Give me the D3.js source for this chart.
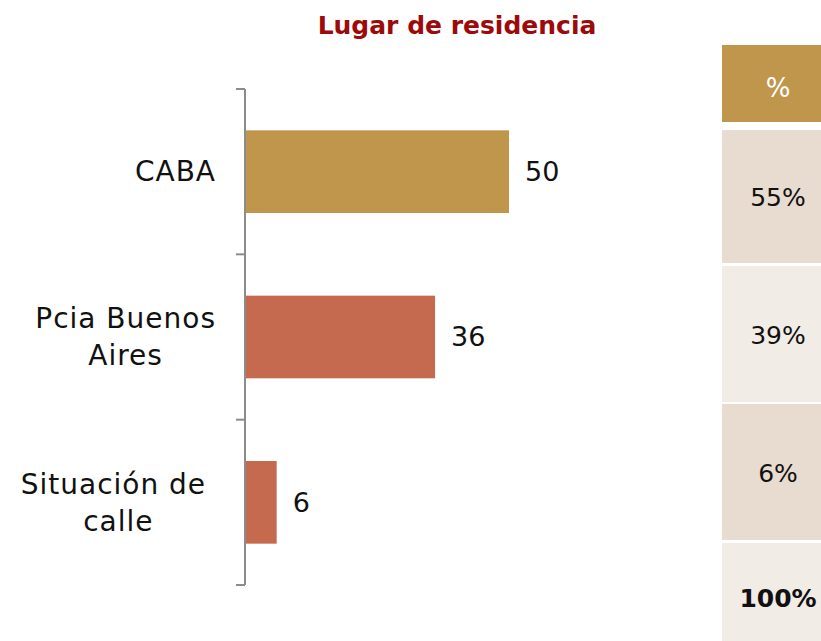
<!DOCTYPE html>
<meta charset="utf-8">
<script src="https://d3js.org/d3.v7.min.js"></script>
<style>
  body { margin: 0; background: #fff; }
  svg text { font-family: "DejaVu Sans", sans-serif; }
</style>
<div id="my_dataviz"></div>
<script>
    // data
    var categories = ["CABA", "Pcia Buenos Aires", "Situación de calle"];
    var labelLines = [["CABA"], ["Pcia Buenos", "Aires"], ["Situación de ", "calle"]];
    var values = [50, 36, 6];
    var pctLabels = ["55%", "39%", "6%"];
    var totalLabel = "100%";
    var barColors = ["#BF964B", "#C66A4F", "#C66A4F"];

    var W = 821, H = 641;
    var svg = d3.select("#my_dataviz")
        .append("svg")
            .attr("width", W)
            .attr("height", H);

    svg.append("text")
        .attr("x", 457)
        .attr("y", 34)
        .attr("text-anchor", "middle")
        .attr("fill", "#9C0A0A")
        .style("font-weight", "bold")
        .style("font-size", "25px")
        .text("Lugar de residencia");

    var x0 = 245;
    var x = d3.scaleLinear().domain([0, 50]).range([x0, 509]);
    var y = d3.scaleBand().domain(categories).range([89, 585])
        .paddingInner(0.5).paddingOuter(0.25);

    var step = y.step();
    var edges = categories.map(function(c) { return y(c) - step * 0.25; });
    edges.push(585);

    // axis
    var axis = svg.append("g").attr("stroke", "#8C8C8C").attr("stroke-width", 2);
    axis.append("line").attr("x1", x0).attr("x2", x0).attr("y1", 89).attr("y2", 585);
    axis.selectAll(".tick").data(edges).enter().append("line")
        .attr("x1", x0 - 9).attr("x2", x0)
        .attr("y1", function(d) { return d; })
        .attr("y2", function(d) { return d; });

    // bars
    svg.selectAll(".bar")
        .data(values)
      .enter().append("rect")
        .attr("x", x0 + 1)
        .attr("y", function(d, i) { return y(categories[i]); })
        .attr("width", function(d) { return x(d) - x0 - 1; })
        .attr("height", y.bandwidth())
        .attr("fill", function(d, i) { return barColors[i]; });

    // value labels
    svg.selectAll(".val")
        .data(values)
      .enter().append("text")
        .attr("x", function(d) { return x(d) + 16; })
        .attr("y", function(d, i) { return y(categories[i]) + y.bandwidth() / 2; })
        .attr("dy", "0.35em")
        .attr("fill", "#111")
        .style("font-size", "27px")
        .text(function(d) { return d; });

    // category labels
    var lineH = 37;
    labelLines.forEach(function(lines, i) {
        var g = svg.append("g");
        var cy = y(categories[i]) + y.bandwidth() / 2;
        var t = g.append("text")
            .attr("text-anchor", "middle")
            .attr("fill", "#111")
            .style("font-size", "28px")
            .style("letter-spacing", "1px")
            .style("white-space", "pre");
        lines.forEach(function(l, j) {
            t.append("tspan")
                .attr("x", 0)
                .attr("y", cy + (j - (lines.length - 1) / 2) * lineH)
                .attr("dy", "0.35em")
                .text(l);
        });
        var w = t.node().getBBox().width;
        t.attr("transform", "translate(" + (216 - w / 2) + ",0)");
    });

    // table
    var tx = 722, tw = 110;
    var rowsY = [[45, 122], [130, 263], [266, 402], [404, 540], [543, 660]];
    var rowFill = ["#BF964B", "#E8DCD1", "#F2ECE6", "#E8DCD1", "#F2ECE6"];
    var rowText = ["%"].concat(pctLabels, [totalLabel]);
    rowsY.forEach(function(r, i) {
        svg.append("rect")
            .attr("x", tx).attr("y", r[0])
            .attr("width", tw).attr("height", r[1] - r[0])
            .attr("fill", rowFill[i]);
    });
    var textY = [88, 197, 335, 473, 598];
    rowText.forEach(function(s, i) {
        svg.append("text")
            .attr("x", 778)
            .attr("y", textY[i])
            .attr("dy", "0.35em")
            .attr("text-anchor", "middle")
            .attr("fill", i === 0 ? "#fff" : "#111")
            .style("font-size", i === 0 ? "26px" : "25px")
            .style("font-weight", i === 4 ? "bold" : "normal")
            .text(s);
    });
</script>
